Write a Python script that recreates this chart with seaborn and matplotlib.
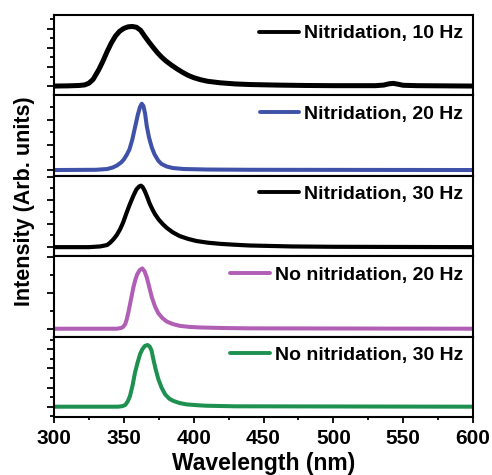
import numpy as np
import pandas as pd
import seaborn as sns
import matplotlib.pyplot as plt
from matplotlib.ticker import MultipleLocator

# Photoluminescence spectra, values (intensity in tick units)
wl_10 = [300, 310, 318, 322, 325, 328, 330, 332, 335, 338, 341, 344, 347, 350, 353, 356, 359, 362,
         365, 368, 371, 374, 377, 380, 384, 388, 392, 396, 400, 405, 410, 419, 430, 440, 460, 480,
         500, 530, 536, 540, 543, 546, 550, 560, 600]
int_10 = [0.0, 0.01, 0.03, 0.06, 0.15, 0.35, 0.6, 0.85, 1.3, 1.8, 2.25, 2.62, 2.87, 3.02, 3.1, 3.12,
          3.08, 2.92, 2.6, 2.3, 2.02, 1.75, 1.52, 1.32, 1.1, 0.9, 0.72, 0.56, 0.44, 0.33, 0.25, 0.17,
          0.11, 0.08, 0.05, 0.03, 0.02, 0.02, 0.05, 0.12, 0.14, 0.1, 0.04, 0.02, 0.0]

wl_20 = [300, 330, 338, 342, 345, 348, 350, 352, 354, 356, 358, 360, 361.5, 362.8, 364, 365.2,
         366.4, 368, 370, 372, 374.7, 377, 380.7, 385, 393, 410, 440, 600]
int_20 = [0.0, 0.01, 0.04, 0.1, 0.18, 0.3, 0.42, 0.6, 0.82, 1.2, 1.7, 2.2, 2.5, 2.64, 2.55, 2.25,
          1.75, 1.3, 0.9, 0.62, 0.37, 0.24, 0.14, 0.08, 0.04, 0.02, 0.01, 0.0]

wl_30 = [300, 325, 333, 338, 340, 342.5, 345, 347.3, 349.5, 351.6, 354, 356.8, 359, 361, 362.3,
         363.5, 365, 366.4, 368.5, 370.5, 372.3, 375, 378, 380.7, 385, 390, 396, 402, 410, 419,
         430, 440, 455, 470, 500, 600]
int_30 = [0.0, 0.0, 0.03, 0.09, 0.18, 0.33, 0.52, 0.76, 1.05, 1.4, 1.78, 2.18, 2.45, 2.58, 2.61,
          2.55, 2.38, 2.18, 1.85, 1.6, 1.4, 1.17, 0.97, 0.82, 0.63, 0.47, 0.35, 0.26, 0.19, 0.14,
          0.1, 0.07, 0.05, 0.03, 0.015, 0.0]

wl_no20 = [300, 345, 348, 349.5, 351, 352, 353.2, 354.5, 355.7, 356.8, 358.2, 359.6, 361.5, 363.2,
           364.8, 366.4, 368.2, 370, 372.3, 374.7, 377.5, 380.7, 385, 390, 397, 404.5, 420, 440, 600]
int_no20 = [0.0, 0.0, 0.02, 0.05, 0.13, 0.25, 0.45, 0.7, 0.93, 1.15, 1.36, 1.52, 1.64, 1.68,
            1.6, 1.43, 1.16, 0.88, 0.62, 0.43, 0.3, 0.2, 0.13, 0.08, 0.05, 0.035, 0.02, 0.01, 0.0]

wl_no30 = [300, 346, 349, 351, 352.8, 354.4, 356.2, 358, 359.8, 361.6, 363.2, 365, 367, 368.5,
           369.8, 371.1, 372.8, 374.7, 377, 379.5, 382.5, 385.5, 390, 395, 402, 409, 430, 600]
int_no30 = [0.0, 0.0, 0.03, 0.09, 0.28, 0.56, 1.1, 1.79, 2.3, 2.75, 3.0, 3.18, 3.23, 3.15,
            2.95, 2.49, 1.95, 1.44, 1.0, 0.65, 0.42, 0.3, 0.19, 0.12, 0.08, 0.05, 0.02, 0.0]

labels = ["Nitridation, 10 Hz", "Nitridation, 20 Hz", "Nitridation, 30 Hz",
          "No nitridation, 20 Hz", "No nitridation, 30 Hz"]
colors = ["#000000", "#3f51a8", "#000000", "#b05fb5", "#1e9050"]
series = [(wl_10, int_10), (wl_20, int_20), (wl_30, int_30), (wl_no20, int_no20), (wl_no30, int_no30)]
# y limits per panel (tick units), so tick spacing matches the original panels
ylims = [(-0.49, 3.72), (-0.23, 2.97), (-0.385, 3.03), (-0.22, 2.02), (-0.54, 3.67)]
widths = [3.6, 2.9, 3.0, 2.9, 2.9]

sns.set_style("ticks")
plt.rcParams['font.family'] = ['Liberation Sans', 'DejaVu Sans']
plt.rcParams['font.weight'] = 'bold'
plt.rcParams['text.color'] = 'black'
plt.rcParams['axes.labelcolor'] = 'black'
plt.rcParams['xtick.color'] = 'black'
plt.rcParams['ytick.color'] = 'black'

fig, axes = plt.subplots(5, 1, figsize=(4.92, 4.75), dpi=100, sharex=True)
fig.subplots_adjust(left=0.1098, right=0.9614, top=0.9684, bottom=0.1221, hspace=0)

for ax, (wl, inten), lab, col, yl, lw in zip(axes, series, labels, colors, ylims, widths):
    df = pd.DataFrame({"Wavelength": wl, "Intensity": inten})
    sns.lineplot(data=df, x="Wavelength", y="Intensity", ax=ax, color=col,
                 linewidth=lw, label=lab, sort=False)
    ax.set_ylim(*yl)
    ax.set_xlim(300, 600)
    ax.yaxis.set_major_locator(MultipleLocator(1))
    ax.yaxis.set_minor_locator(MultipleLocator(0.5))
    ax.tick_params(axis='y', which='major', length=5, width=1.3, labelleft=False)
    ax.tick_params(axis='y', which='minor', length=3, width=1.3)
    ax.tick_params(axis='x', which='both', bottom=False, labelbottom=False)
    ax.set_ylabel("")
    ax.set_xlabel("")
    for sp in ax.spines.values():
        sp.set_linewidth(1.5)
        sp.set_color("black")
    leg = ax.legend(loc="upper right", frameon=False, handlelength=2.05,
                    handletextpad=0.25, borderaxespad=0.25, borderpad=0.25,
                    prop={'weight': 'bold', 'size': 14})
    for h in leg.get_lines():
        h.set_linewidth(2.8)

bottom = axes[-1]
bottom.xaxis.set_major_locator(MultipleLocator(50))
bottom.xaxis.set_minor_locator(MultipleLocator(25))
bottom.tick_params(axis='x', which='major', bottom=True, labelbottom=True, length=4.5, width=1.3,
                   labelsize=15, pad=4)
bottom.tick_params(axis='x', which='minor', bottom=True, length=2.5, width=1.3)
for t in bottom.get_xticklabels():
    t.set_fontweight('bold')
bottom.set_xlabel("Wavelength (nm)", fontsize=16.5, fontweight='bold', labelpad=3)

fig.text(0.05, 0.577, "Intensity (Arb. units)", rotation=90, ha='center', va='center',
         fontsize=15.5, fontweight='bold')

plt.savefig("out.png", dpi=100)
